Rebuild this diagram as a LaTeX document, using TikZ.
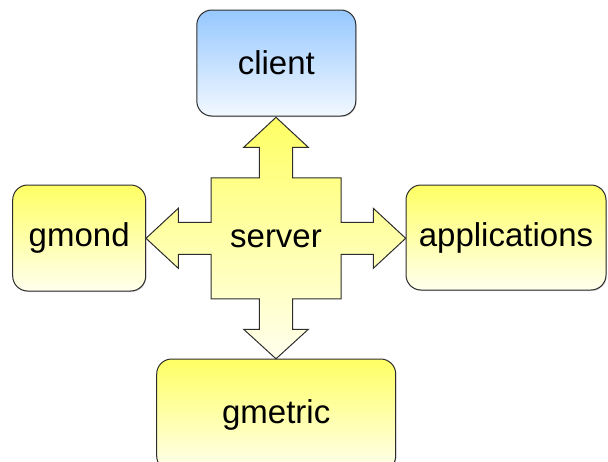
\documentclass[tikz,border=0pt]{standalone}
\usepackage{fontspec}
\setmainfont{Liberation Sans}
\usetikzlibrary{shadows}
\definecolor{ytop}{RGB}{255,255,100}
\definecolor{ybot}{RGB}{255,255,238}
\definecolor{btop}{RGB}{150,200,255}
\definecolor{bbot}{RGB}{242,248,255}
\definecolor{edge}{RGB}{45,45,45}
\tikzset{
  lbl/.style={font=\fontsize{33}{40}\selectfont, text=black},
  box/.style={lbl, draw=edge, line width=1pt, rounded corners=15pt, inner sep=0pt,
    drop shadow={shadow xshift=0.7pt, shadow yshift=-1pt, opacity=0.3, fill=black!60}},
  ybox/.style={box, top color=ytop, bottom color=ybot},
  bbox/.style={box, top color=btop, bottom color=bbot},
  cross/.style={draw=edge, line width=1pt, top color=ytop, bottom color=ybot, line join=miter}
}
\begin{document}
\begin{tikzpicture}[x=1pt, y=-1pt]
  \useasboundingbox (0,0) rectangle (608,461);

  % outer components
  \node[bbox, minimum width=159pt, minimum height=106pt] (client) at (276.3,63) {client};
  \node[ybox, minimum width=133pt, minimum height=106pt] (gmond) at (79.2,238) {gmond};
  \node[ybox, minimum width=200pt, minimum height=105pt] (apps) at (506,237.5) {applications};
  \node[ybox, minimum width=239pt, minimum height=112pt] (gmetric) at (276.2,415) {gmetric};

  % the server: a square with a block arrow toward each component
  \coordinate (srv) at (276,238.3);
  \begin{scope}[shift={(srv)}]
    \path[cross]
      (0,-121) -- (32.3,-91) -- (16.7,-91) -- (16.7,-60.5) -- (65,-60.5) -- (65,-16)
      -- (97.3,-16) -- (97.3,-30) -- (129.7,0) -- (97.3,30) -- (97.3,16) -- (65,16)
      -- (65,60.5) -- (16.7,60.5) -- (16.7,91) -- (32.3,91) -- (0,120.5)
      -- (-32.3,91) -- (-16.7,91) -- (-16.7,60.5) -- (-65,60.5) -- (-65,16)
      -- (-97.7,16) -- (-97.7,30) -- (-130,0) -- (-97.7,-30) -- (-97.7,-16)
      -- (-65,-16) -- (-65,-60.5) -- (-16.7,-60.5) -- (-16.7,-91) -- (-32.3,-91) -- cycle;
  \end{scope}
  \node[lbl] (server) at (srv) {server};
\end{tikzpicture}
\end{document}
